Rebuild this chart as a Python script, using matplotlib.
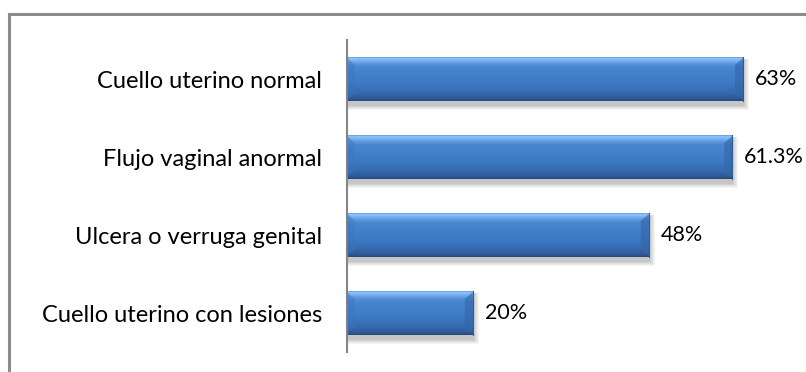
import numpy as np
import matplotlib
matplotlib.use("Agg")
import matplotlib.pyplot as plt
from matplotlib.colors import LinearSegmentedColormap
from matplotlib.patches import Polygon, Rectangle
from matplotlib.lines import Line2D

categories = [
    "Cuello uterino normal",
    "Flujo vaginal anormal",
    "Ulcera o verruga genital",
    "Cuello uterino con lesiones",
]
values = [63, 61.3, 48, 20]
value_labels = ["63%", "61.3%", "48%", "20%"]

W_PX, H_PX = 806, 372
fig = plt.figure(figsize=(W_PX / 100, H_PX / 100), dpi=100)
fig.patch.set_facecolor("white")

# plot area in pixels
ax_left, ax_right = 347, 787
ax_top, ax_bottom = 40, 352
ax = fig.add_axes([ax_left / W_PX, 1 - ax_bottom / H_PX,
                   (ax_right - ax_left) / W_PX, (ax_bottom - ax_top) / H_PX])
XMAX = 70
n = len(categories)
sx = XMAX / (ax_right - ax_left)      # data units per pixel (x)
sy = n / (ax_bottom - ax_top)         # data units per pixel (y)

bar_h = 44 * sy
bevel = 8
FONT = "Lato"
FS_CAT = 17
FS_VAL = 15.5

# vertical shading of each bar, top to bottom
shade = LinearSegmentedColormap.from_list("bar", [
    (0.00, "#5B95DB"),
    (0.03, "#93C6F8"),
    (0.14, "#5E9BE2"),
    (0.22, "#4A87D1"),
    (0.60, "#3D79C4"),
    (0.82, "#3669AF"),
    (0.95, "#2E5894"),
    (1.00, "#24467A"),
])
grad = np.linspace(0, 1, 256).reshape(-1, 1)

for i, (v, lab) in enumerate(zip(values, value_labels)):
    y0 = i - bar_h / 2
    y1 = i + bar_h / 2
    # soft drop shadow
    for k in range(6):
        grow = k * 1.0
        ax.add_patch(Rectangle((0, y0 + (3 - grow * 0.3) * sy),
                               v + (1 + grow) * sx, bar_h + (2 + grow) * sy,
                               facecolor="#000000", alpha=0.04, lw=0, zorder=1))
    ax.imshow(grad, extent=(0, v, y1, y0), origin="upper", aspect="auto",
              cmap=shade, interpolation="bilinear", zorder=2)
    bx = bevel * sx
    by = bevel * sy
    # left bevel face
    ax.add_patch(Polygon([(0, y0 + 1 * sy), (bx, y0 + by), (bx, y1 - by), (0, y1 - 1 * sy)],
                         closed=True, facecolor="#3C75BE", alpha=0.45, lw=0, zorder=3))
    # right bevel face
    ax.add_patch(Polygon([(v, y0 + 1 * sy), (v - bx, y0 + by), (v - bx, y1 - by), (v, y1 - 1 * sy)],
                         closed=True, facecolor="#3367AA", alpha=0.65, lw=0, zorder=3))
    ax.plot([v, v], [y0, y1], color="#2E5A96", lw=0.8, zorder=4)
    ax.text(v + 12 * sx, i, lab, ha="left", va="center", fontsize=FS_VAL,
            family=FONT, color="#000000", zorder=5)

ax.set_xlim(0, XMAX)
ax.set_ylim(n - 0.5, -0.5)
ax.set_yticks(range(n))
ax.set_yticklabels(categories, fontsize=FS_CAT, family=FONT)
ax.tick_params(axis="y", length=0, pad=18)
ax.set_xticks([])
for side in ("top", "right", "bottom"):
    ax.spines[side].set_visible(False)
ax.spines["left"].set_color("#868686")
ax.spines["left"].set_linewidth(1.5)
ax.set_facecolor("none")

# chart frame (top and left edges)
fig.add_artist(Line2D([9 / W_PX, 9 / W_PX], [0, 1 - 14 / H_PX],
                      transform=fig.transFigure, color="#8C8C8C", lw=2.2))
fig.add_artist(Line2D([9 / W_PX, 1], [1 - 14 / H_PX, 1 - 14 / H_PX],
                      transform=fig.transFigure, color="#8C8C8C", lw=2.2))

fig.savefig("out.png", dpi=100, facecolor="white")
